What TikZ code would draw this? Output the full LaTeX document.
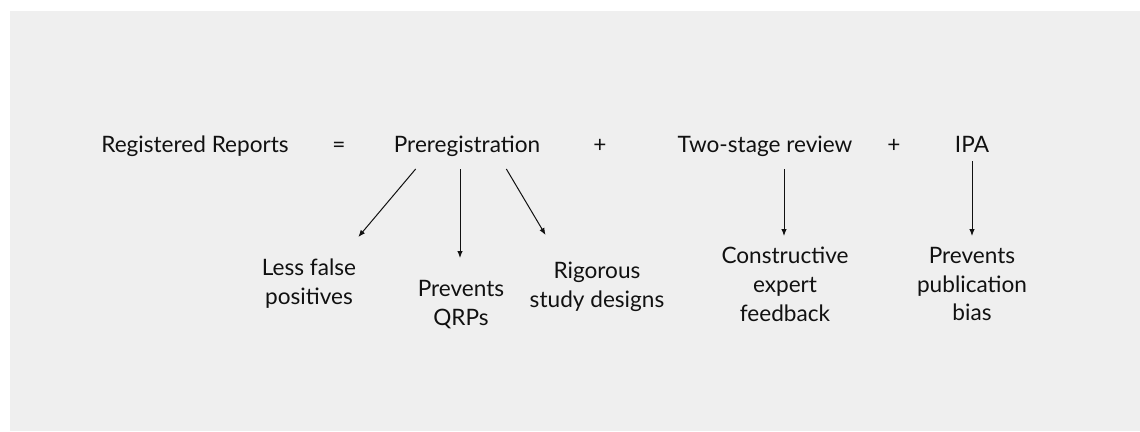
\documentclass[tikz,border=0pt]{standalone}
\usepackage{fontspec}
\setmainfont{Lato}
\usetikzlibrary{arrows.meta, calc}
\definecolor{panelgrey}{HTML}{EFEFEF}
\definecolor{inkgrey}{HTML}{111111}

\begin{document}
\begin{tikzpicture}[x=1pt, y=-1pt,
    term/.style={anchor=base, inner sep=0pt, font=\fontsize{22.6}{28.8}\selectfont, text=inkgrey},
    gain/.style={anchor=north, inner sep=0pt, align=center, font=\fontsize{22.6}{28.8}\selectfont, text=inkgrey},
    leads/.style={-{Latex[length=7pt, width=5.5pt]}, line width=1pt, draw=inkgrey}]
  \useasboundingbox (0,0) rectangle (1140,431);
  \fill[panelgrey] (10,11) rectangle (1140,431);
  % the equation
  \node[term] (rr) at (195,152) {Registered Reports};
  \node[term] (eq) at (339,152) {=};
  \node[term] (pre) at (467,152) {Preregistration};
  \node[term] (plusA) at (600,152) {+};
  \node[term] (two) at (765,152) {Two-stage review};
  \node[term] (plusB) at (894,152) {+};
  \node[term] (ipa) at (972,152) {IPA};
  % what each part brings
  \node[gain] (fp) at (309,259) {Less false\\positives};
  \node[gain] (qrp) at (461,280) {Prevents\\QRPs};
  \node[gain] (rig) at (597,262) {Rigorous\\study designs};
  \node[gain] (cef) at (785,247) {Constructive\\expert\\feedback};
  \node[gain] (pb) at (972,247) {Prevents\\publication\\bias};
  \draw[leads] ($(pre.base west)+(22,17)$) -- ($(fp.north east)+(2,-22)$);
  \draw[leads] ($(pre.base)+(-7,17)$) -- ($(qrp.north)+(-1,-22)$);
  \draw[leads] ($(pre.base east)+(-34,17)$) -- ($(rig.north west)+(16,-27)$);
  \draw[leads] ($(two.base)+(19,17)$) -- ($(cef.north)+(-1,-11)$);
  \draw[leads] ($(ipa.base)+(0,9)$) -- ($(pb.north)+(0,-11)$);
\end{tikzpicture}
\end{document}
